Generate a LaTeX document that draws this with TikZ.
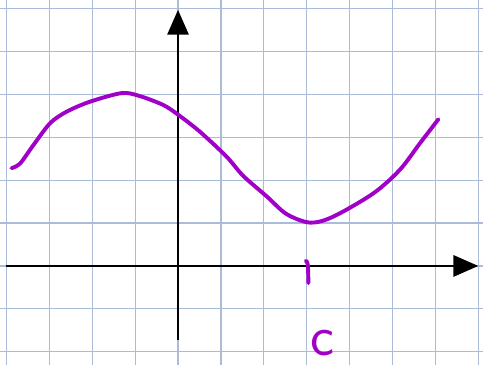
\documentclass[tikz,border=0pt]{standalone}
\usepackage{tikz}
\usetikzlibrary{arrows.meta}
\definecolor{gridblue}{RGB}{170,188,218}
\definecolor{penpurple}{RGB}{160,0,200}

\begin{document}
\begin{tikzpicture}[gridline/.style={draw=gridblue,line width=0.8pt},axisline/.style={line width=1.1pt,-{Triangle[length=0.58cm,width=0.5cm]}},pen/.style={penpurple,line width=2.6pt,line cap=round,line join=round}]
\useasboundingbox (-4.15,-2.31) rectangle (7.11,6.20);
\fill[white] (-4.15,-2.31) rectangle (7.11,6.20);
\draw[gridline] (-4.15,-2.31) grid (7.11,6.20);
% axes
\coordinate (xstart) at (-4,0);
\coordinate (xend) at (7,0);
\coordinate (ystart) at (0,-1.72);
\coordinate (yend) at (0,5.97);
\draw[axisline] (xstart) -- (xend);
\draw[axisline] (ystart) -- (yend);
% the curve
\draw[pen] plot[smooth,tension=0.5] coordinates {(-3.88,2.28) (-3.68,2.39) (-3.37,2.82) (-2.98,3.33) (-2.59,3.60) (-2.05,3.83) (-1.31,4.03) (-0.89,3.96) (-0.34,3.75) (0.01,3.52) (0.51,3.13) (1.13,2.55) (1.52,2.10) (2.07,1.62) (2.53,1.21) (3.08,1.01) (3.62,1.15) (4.55,1.69) (5.17,2.24) (5.64,2.86) (6.07,3.42)};
% tick and label
\draw[pen] (2.98,0.12) .. controls (3.03,0.08) .. (3.04,-0.40);
\node[penpurple,font=\sffamily\fontsize{38}{38}\selectfont,inner sep=0pt,anchor=base] (c) at (3.36,-2.08) {c};
\end{tikzpicture}
\end{document}
